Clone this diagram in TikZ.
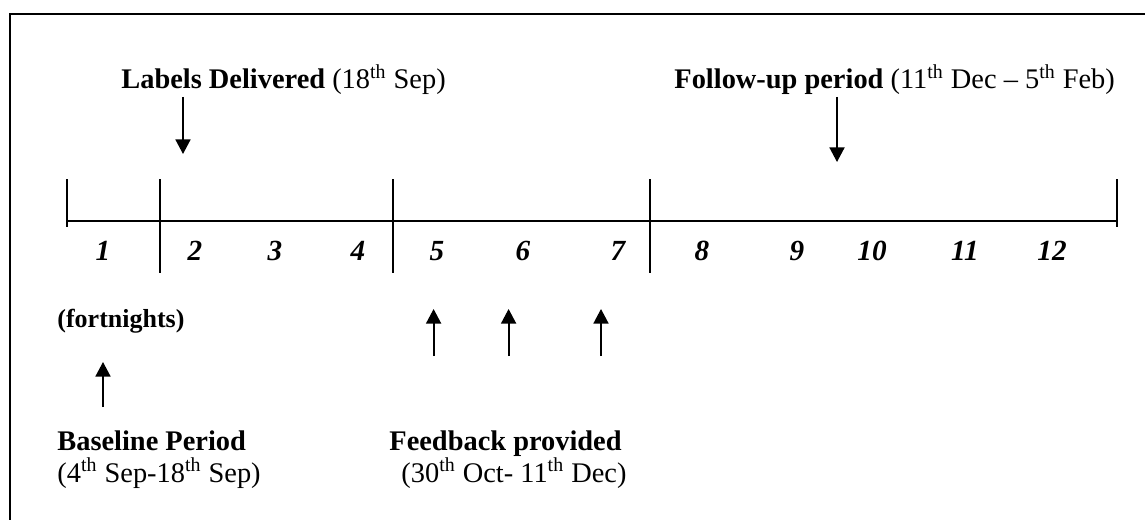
\documentclass[tikz,border=0pt]{standalone}
\usepackage{fontspec}
\setmainfont{Liberation Serif}
\usetikzlibrary{arrows.meta}
\begin{document}
\begin{tikzpicture}[x=0.5pt,y=-0.5pt,
  lbl/.style={anchor=base west,inner sep=0pt,font=\fontsize{14.2}{16}\selectfont},
  small/.style={anchor=base west,inner sep=0pt,font=\fontsize{13}{15}\selectfont\bfseries},
  num/.style={anchor=base,inner sep=0pt,font=\fontsize{14.6}{16}\selectfont\bfseries\itshape},
  axis/.style={line width=1pt},
  pointer/.style={line width=0.9pt,-{Triangle[width=7.5pt,length=7.3pt]}}]
\path[use as bounding box] (0,0) rectangle (1145,519);
% outer frame (runs off the page on the right and bottom)
\begin{scope}
  \clip (0,0) rectangle (1145,519);
  \draw[line width=1pt] (9.5,560) -- (9.5,14.5) -- (1180,14.5);
\end{scope}

% timeline
\coordinate (tA) at (66.5,221);
\coordinate (tB) at (1117,221);
\draw[axis] (tA) -- (tB);
\draw[axis] (66.5,179) -- (66.5,227);
\draw[axis] (1117,179) -- (1117,227);
\draw[axis] (160,179) -- (160,273);
\draw[axis] (393,179) -- (393,273);
\draw[axis] (650,179) -- (650,273);

% fortnight numbers
\foreach \n/\x in {1/103,2/195,3/275,4/358,5/437,6/523,7/618,8/702,9/797,10/872,11/965,12/1052}
  \node[num] (n\n) at (\x,260) {\n};

% labels above the timeline
\node[lbl] (lab) at (121,89) {\textbf{Labels Delivered} (18\textsuperscript{th} Sep)};
\node[lbl] (fup) at (674,89) {\textbf{Follow-up period} (11\textsuperscript{th} Dec -- 5\textsuperscript{th} Feb)};
\coordinate (labS) at (183,97);
\coordinate (labE) at (183,154);
\coordinate (fupS) at (837,97);
\coordinate (fupE) at (837,162);
\draw[pointer] (labS) -- (labE);
\draw[pointer] (fupS) -- (fupE);

% labels below the timeline
\node[small] (fn) at (57,327) {(fortnights)};
\node[lbl] (base) at (57,450) {\textbf{Baseline Period}};
\node[lbl] (basedate) at (57,482) {(4\textsuperscript{th} Sep-18\textsuperscript{th} Sep)};
\node[lbl] (fb) at (389,450) {\textbf{Feedback provided}};
\node[lbl] (fbdate) at (401,482) {(30\textsuperscript{th} Oct- 11\textsuperscript{th} Dec)};

\coordinate (bS) at (103,407);
\coordinate (bE) at (103,362);
\draw[pointer] (bS) -- (bE);
\foreach \i/\x in {1/433.6,2/508.6,3/601}{
  \coordinate (f\i S) at (\x,356);
  \coordinate (f\i E) at (\x,309);
  \draw[pointer] (f\i S) -- (f\i E);
}
\end{tikzpicture}
\end{document}
